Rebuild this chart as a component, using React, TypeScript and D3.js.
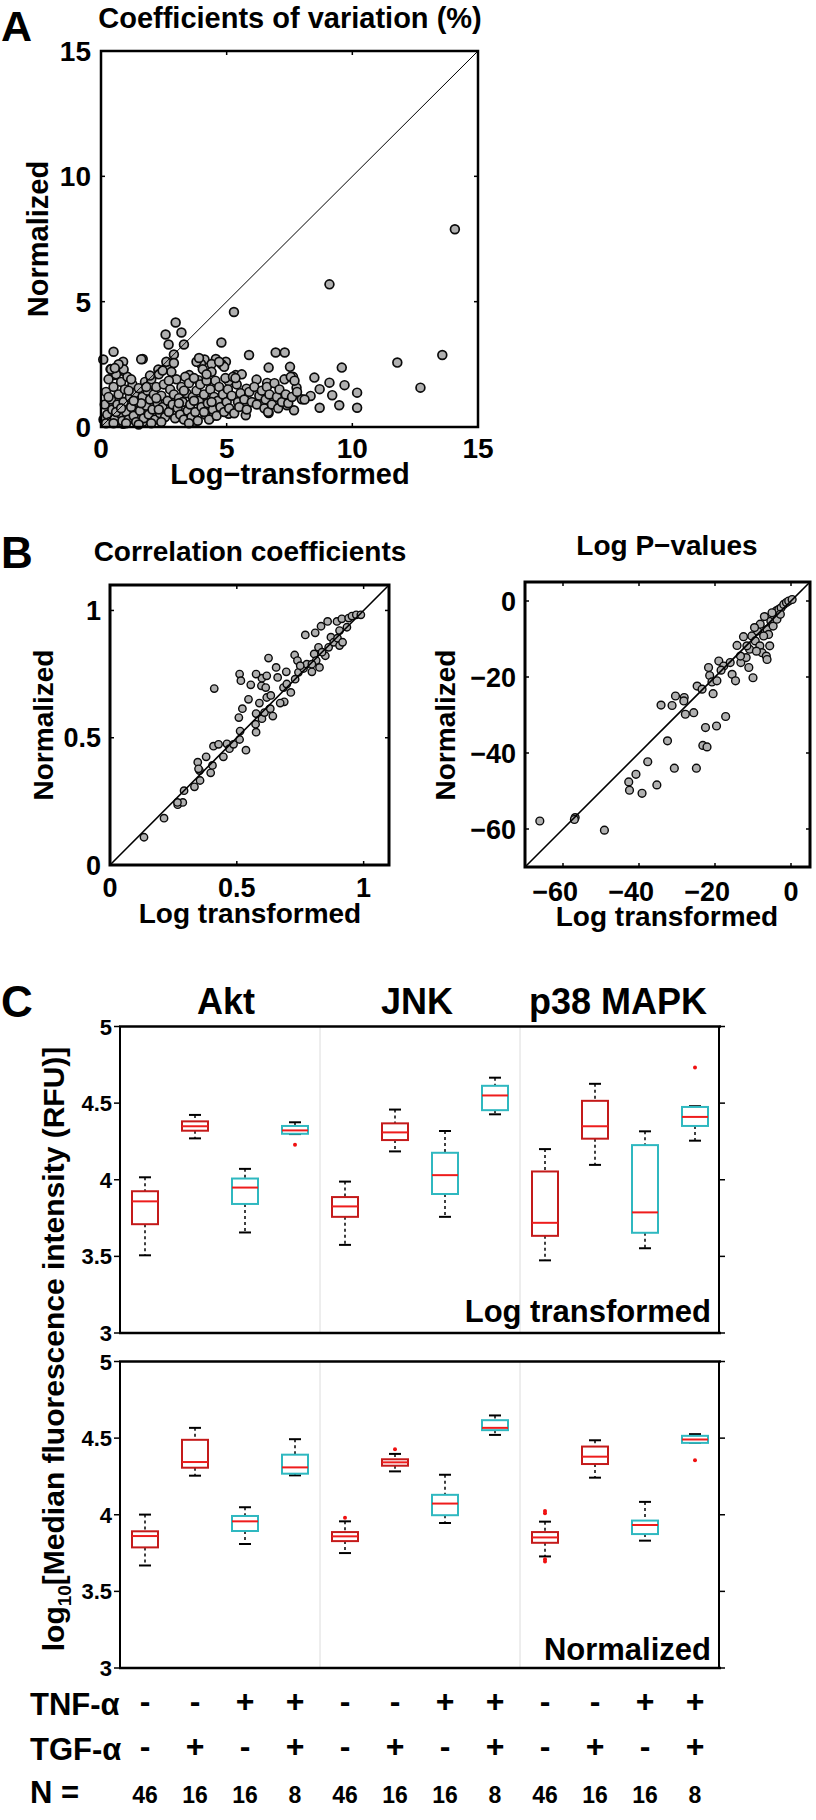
import React from 'react';
import * as d3 from 'd3';

const FONT = "'Liberation Sans', Arial, Helvetica, sans-serif";
const MINUS = '\u2212';

// ---------- Panel A: coefficients of variation (%) [log-transformed, normalized] ----------
const cvPoints: [number, number][] = [
  [14.08, 7.89], [9.09, 5.69], [5.29, 4.59], [13.58, 2.87], [11.79, 2.57], [12.71, 1.57],
  [2.97, 4.17], [3.2, 3.77], [2.57, 3.69], [3.3, 3.29], [2.69, 3.29], [2.9, 2.89],
  [4.79, 3.37], [5.89, 2.87], [6.95, 2.97], [7.31, 2.97], [0.5, 3.0], [0.09, 2.69],
  [0.88, 2.6], [1.66, 2.71], [9.58, 2.37], [9.69, 1.67], [8.49, 1.97], [10.19, 1.37],
  [10.19, 0.77], [9.48, 0.87], [8.7, 0.77], [9.09, 1.77], [9.2, 1.27], [8.7, 1.51],
  [8.34, 1.24], [7.99, 1.11], [7.68, 0.67], [7.78, 1.57], [7.64, 2.0], [7.52, 2.4],
  [6.67, 2.37], [6.19, 1.89], [6.61, 1.76], [5.76, 0.47], [6.67, 0.56], [7.4, 0.87],
  [5.79, 1.53], [5.36, 2.07], [4.97, 2.6], [4.57, 2.71], [4.12, 2.69], [3.98, 2.51],
  [4.4, 2.51], [3.51, 2.07], [2.28, 2.29], [2.7, 2.53], [0.38, 2.31], [0.88, 2.24],
  [0.53, 2.07], [4.51, 1.71], [5.08, 1.83], [3.87, 1.87], [4.86, 1.27], [4.22, 1.07],
  [5.08, 0.53], [3.73, 0.2], [4.37, 0.4], [2.45, 0.4], [1.66, 0.2], [0.88, 0.13], [0.24, 0.2],
  [0.1, 0.3], [0.15, 0.9], [0.2, 1.4], [0.25, 0.5], [0.3, 1.9], [0.35, 0.2], [0.4, 1.1],
  [0.45, 0.7], [0.5, 1.6], [0.55, 0.35], [0.6, 2.1], [0.65, 0.9], [0.7, 1.3], [0.75, 0.55],
  [0.8, 1.8], [0.85, 0.25], [0.9, 1.0], [0.95, 1.5], [1.0, 0.6], [1.05, 2.0], [1.1, 0.3],
  [1.15, 1.2], [1.2, 0.8], [1.25, 1.7], [1.3, 0.45], [1.35, 1.35], [1.4, 0.2], [1.45, 1.0],
  [1.5, 1.55], [1.55, 0.65], [1.6, 2.7], [1.65, 1.2], [1.7, 0.35], [1.75, 1.8], [1.8, 0.85],
  [1.85, 1.45], [1.9, 0.5], [1.95, 1.1], [2.0, 1.9], [2.05, 0.7], [2.1, 1.3], [2.15, 0.3],
  [2.2, 1.6], [2.25, 0.95], [2.3, 2.1], [2.35, 0.55], [2.4, 1.25], [2.45, 0.8], [2.5, 1.7],
  [2.55, 0.4], [2.6, 2.4], [2.65, 1.05], [2.7, 0.6], [2.75, 1.5], [2.8, 2.2], [2.85, 0.9],
  [2.9, 1.3], [2.95, 0.35], [3.0, 1.9], [3.05, 0.75], [3.1, 1.15], [3.15, 0.5], [3.2, 1.6],
  [3.25, 1.0], [3.3, 0.3], [3.35, 2.0], [3.4, 1.35], [3.45, 0.65], [3.5, 1.75], [3.55, 0.9],
  [3.6, 0.4], [3.65, 1.2], [3.7, 1.95], [3.75, 0.6], [3.8, 1.45], [3.85, 0.25], [3.9, 1.05],
  [3.95, 1.7], [4.0, 0.8], [4.05, 2.3], [4.1, 1.3], [4.15, 0.5], [4.2, 1.85], [4.25, 0.95],
  [4.3, 0.3], [4.35, 1.5], [4.4, 2.2], [4.45, 0.7], [4.5, 1.2], [4.55, 1.85], [4.6, 0.45],
  [4.65, 1.05], [4.7, 1.6], [4.75, 0.8], [4.8, 2.5], [4.85, 1.3], [4.9, 0.6], [4.95, 1.95],
  [5.0, 1.0], [5.05, 1.5], [5.1, 0.75], [5.2, 1.25], [5.25, 2.0], [5.3, 0.55], [5.4, 1.7],
  [5.45, 1.0], [5.5, 0.8], [5.55, 1.35], [5.6, 2.1], [5.7, 1.1], [5.8, 0.7], [5.9, 1.4],
  [6.0, 1.0], [6.1, 1.6], [6.2, 0.9], [6.3, 1.25], [6.4, 1.45], [6.5, 0.75], [6.55, 1.1],
  [6.6, 1.6], [6.65, 0.6], [6.7, 1.3], [6.8, 0.9], [6.9, 1.75], [7.0, 1.2], [7.05, 0.75],
  [7.1, 1.5], [7.2, 1.0], [7.3, 1.9], [7.35, 1.3], [7.45, 0.95], [7.55, 2.0], [7.6, 1.2],
  [7.7, 1.85], [7.8, 1.4], [8.1, 1.1], [0.2, 0.15], [0.5, 0.15], [1.0, 0.15], [1.5, 0.1],
  [2.0, 0.15], [2.4, 0.2], [3.5, 0.15], [0.3, 1.2], [0.6, 0.6], [0.9, 2.3], [1.2, 1.9],
  [0.4, 2.3], [0.7, 2.5], [1.1, 1.45], [1.6, 0.95], [2.2, 1.15], [2.7, 1.85], [3.1, 0.95],
  [3.3, 1.45], [3.7, 1.05], [4.1, 0.6], [4.4, 1.0], [2.6, 2.6], [2.9, 2.55], [1.8, 1.6],
  [1.3, 1.05], [0.8, 0.75], [2.45, 2.25], [3.8, 2.6], [4.2, 2.1], [4.9, 2.4], [5.35, 1.95],
  [4.7, 2.6], [3.9, 2.75], [2.3, 0.7], [1.95, 2.05], [0.55, 2.35],
];
const cvTicks = [0, 5, 10, 15];

// ---------- Panel B left: correlation coefficients ----------
const corrPoints: [number, number][] = [
  [0.134, 0.109], [0.213, 0.184], [0.267, 0.237], [0.287, 0.246], [0.266, 0.246], [0.292, 0.292],
  [0.333, 0.307], [0.355, 0.332], [0.353, 0.371], [0.397, 0.362], [0.404, 0.391], [0.379, 0.425],
  [0.346, 0.404], [0.349, 0.378], [0.408, 0.467], [0.428, 0.474], [0.447, 0.425], [0.461, 0.476],
  [0.471, 0.457], [0.487, 0.474], [0.511, 0.493], [0.513, 0.526], [0.536, 0.451], [0.508, 0.579],
  [0.522, 0.614], [0.546, 0.651], [0.555, 0.708], [0.511, 0.75], [0.516, 0.724], [0.411, 0.693],
  [0.576, 0.522], [0.574, 0.553], [0.576, 0.595], [0.589, 0.636], [0.597, 0.704], [0.599, 0.734],
  [0.614, 0.697], [0.618, 0.658], [0.629, 0.612], [0.599, 0.575], [0.609, 0.599], [0.642, 0.585],
  [0.625, 0.813], [0.655, 0.776], [0.661, 0.737], [0.684, 0.697], [0.687, 0.641], [0.695, 0.759],
  [0.713, 0.678], [0.697, 0.711], [0.728, 0.825], [0.739, 0.803], [0.73, 0.73], [0.743, 0.757],
  [0.763, 0.772], [0.77, 0.904], [0.776, 0.789], [0.796, 0.759], [0.809, 0.912], [0.826, 0.776],
  [0.805, 0.829], [0.822, 0.855], [0.832, 0.938], [0.858, 0.957], [0.849, 0.822], [0.862, 0.855],
  [0.871, 0.895], [0.882, 0.875], [0.897, 0.891], [0.905, 0.862], [0.917, 0.875], [0.895, 0.957],
  [0.914, 0.967], [0.934, 0.934], [0.941, 0.97], [0.954, 0.978], [0.971, 0.983], [0.989, 0.983],
  [0.905, 0.921], [0.836, 0.836], [0.813, 0.803], [0.796, 0.789], [0.75, 0.783], [0.671, 0.636],
  [0.634, 0.666], [0.576, 0.75], [0.618, 0.743], [0.632, 0.614],
];
const corrTicks = [0, 0.5, 1];

// ---------- Panel B right: log P-values ----------
const pvalPoints: [number, number][] = [
  [-66.1, -57.9], [-56.8, -57.0], [-57.0, -57.5], [-49.1, -60.3], [-42.7, -47.6], [-42.5, -49.8],
  [-40.8, -45.6], [-39.2, -50.6], [-37.7, -42.3], [-35.3, -48.4], [-34.2, -27.4], [-32.5, -36.8],
  [-31.3, -27.5], [-30.7, -44.0], [-30.4, -25.0], [-28.1, -25.4], [-27.8, -29.8], [-28.2, -26.3],
  [-25.6, -29.4], [-24.9, -44.0], [-24.7, -22.4], [-23.4, -23.2], [-23.2, -38.0], [-22.1, -38.4],
  [-22.5, -33.3], [-21.4, -19.6], [-21.7, -17.5], [-20.8, -21.3], [-20.5, -24.4], [-19.6, -32.9],
  [-19.5, -21.0], [-19.0, -15.8], [-17.7, -17.1], [-17.2, -30.4], [-15.5, -19.3], [-14.6, -21.0],
  [-14.2, -11.7], [-13.2, -16.2], [-12.5, -9.4], [-11.8, -14.9], [-11.1, -17.5], [-10.0, -20.2],
  [-10.9, -12.7], [-10.3, -9.2], [-9.4, -10.5], [-8.8, -7.9], [-8.2, -11.8], [-7.6, -13.6],
  [-7.0, -4.1], [-6.3, -7.5], [-6.5, -14.5], [-6.3, -15.4], [-5.9, -8.8], [-5.6, -11.8],
  [-5.3, -5.3], [-4.7, -6.6], [-4.4, -3.9], [-3.9, -2.6], [-3.2, -2.2], [-2.6, -1.8],
  [-1.9, -0.9], [-1.2, -0.4], [-0.6, 0.0], [0.3, 0.4], [-8.1, -6.1], [-9.6, -7.0],
  [-7.2, -9.2], [-5.0, -3.1], [-3.7, -4.8], [-2.8, -3.5], [-9.1, -13.2], [-11.6, -11.8],
  [-13.3, -14.5], [-16.0, -16.2], [-18.4, -18.2],
];
const pvalTicks = [-60, -40, -20, 0];

// ---------- Panel C: box plots ----------
const kinases = ['Akt', 'JNK', 'p38 MAPK'];
const tnfAlpha = ['-', '-', '+', '+', '-', '-', '+', '+', '-', '-', '+', '+'];
const tgfAlpha = ['-', '+', '-', '+', '-', '+', '-', '+', '-', '+', '-', '+'];
const nValues = [46, 16, 16, 8, 46, 16, 16, 8, 46, 16, 16, 8];
const cTicks = [3, 3.5, 4, 4.5, 5];
// [lower whisker, q1, median, q3, upper whisker]
const logBoxes: number[][] = [
  [3.507, 3.71, 3.859, 3.925, 4.016], [4.27, 4.32, 4.349, 4.381, 4.423],
  [3.656, 3.842, 3.949, 4.008, 4.071], [4.298, 4.3, 4.322, 4.351, 4.375],
  [3.575, 3.758, 3.826, 3.887, 3.988], [4.185, 4.259, 4.309, 4.368, 4.458],
  [3.758, 3.907, 4.03, 4.176, 4.318], [4.427, 4.454, 4.55, 4.613, 4.666],
  [3.474, 3.634, 3.719, 4.054, 4.2], [4.097, 4.268, 4.349, 4.515, 4.626],
  [3.553, 3.654, 3.787, 4.226, 4.316], [4.255, 4.351, 4.41, 4.475, 4.48],
];
const logOutliers: [number, number][] = [[3, 4.228], [11, 4.733]];
const normBoxes: number[][] = [
  [3.669, 3.787, 3.861, 3.892, 4.001], [4.255, 4.307, 4.344, 4.489, 4.567],
  [3.809, 3.894, 3.957, 3.992, 4.049], [4.257, 4.268, 4.309, 4.392, 4.493],
  [3.75, 3.828, 3.859, 3.887, 3.957], [4.283, 4.32, 4.342, 4.362, 4.397],
  [3.946, 3.997, 4.073, 4.13, 4.261], [4.521, 4.552, 4.567, 4.617, 4.648],
  [3.728, 3.817, 3.852, 3.887, 3.955], [4.242, 4.331, 4.379, 4.445, 4.486],
  [3.831, 3.874, 3.933, 3.962, 4.084], [4.469, 4.469, 4.491, 4.515, 4.526],
];
const normOutliers: [number, number][] = [
  [4, 3.981], [5, 4.427], [8, 4.025], [8, 4.01], [8, 3.71], [8, 3.695], [11, 4.355],
];

const GRAY = '#b0b0b0';
const RED_EDGE = '#c41a1a';
const RED_MED = '#ee1c1c';
const CYAN = '#2fb8c0';

type ScatterProps = {
  x: d3.ScaleLinear<number, number>;
  y: d3.ScaleLinear<number, number>;
  ticks: number[];
  fmt: (v: number) => string;
  points: [number, number][];
  r: number;
  sw: number;
  boxW: number;
  diagW: number;
  tickFs: number;
  xTickY: number;
  yTickX: number;
};

function Scatter(p: ScatterProps) {
  const [x0, x1] = p.x.range();
  const [yb, yt] = p.y.range();
  const [d0, d1] = p.x.domain();
  const tl = 4;
  return (
    <g>
      {p.points.map((d, i) => (
        <circle key={i} cx={p.x(d[0])} cy={p.y(d[1])} r={p.r} fill={GRAY} stroke="#0a0a0a" strokeWidth={p.sw} />
      ))}
      <line x1={p.x(d0)} y1={p.y(d0)} x2={p.x(d1)} y2={p.y(d1)} stroke="#000" strokeWidth={p.diagW} />
      {p.ticks.map((t) => (
        <g key={t}>
          <line x1={p.x(t)} x2={p.x(t)} y1={yb} y2={yb - tl} stroke="#000" strokeWidth={1.5} />
          <line x1={p.x(t)} x2={p.x(t)} y1={yt} y2={yt + tl} stroke="#000" strokeWidth={1.5} />
          <line y1={p.y(t)} y2={p.y(t)} x1={x0} x2={x0 + tl} stroke="#000" strokeWidth={1.5} />
          <line y1={p.y(t)} y2={p.y(t)} x1={x1} x2={x1 - tl} stroke="#000" strokeWidth={1.5} />
        </g>
      ))}
      <rect x={x0} y={yt} width={x1 - x0} height={yb - yt} fill="none" stroke="#000" strokeWidth={p.boxW} />
      {p.ticks.map((t) => {
        const s = p.fmt(t);
        const neg = s.startsWith(MINUS);
        const digitsW = (s.length - 1) * 0.556 * p.tickFs;
        return (
          <g key={'l' + t}>
            <text x={p.x(t) + (neg ? digitsW / 2 : 0)} y={p.xTickY} textAnchor={neg ? 'end' : 'middle'} fontSize={p.tickFs}>{s}</text>
            <text x={p.yTickX} y={p.y(t) + p.tickFs * 0.36} textAnchor="end" fontSize={p.tickFs}>{s}</text>
          </g>
        );
      })}
    </g>
  );
}

type BoxProps = {
  y: d3.ScaleLinear<number, number>;
  boxes: number[][];
  outliers: [number, number][];
  label: string;
  labelY: number;
};

const xC = d3.scaleBand<number>().domain(d3.range(12)).range([120, 720]);

function BoxPanel(p: BoxProps) {
  const [yb, yt] = p.y.range();
  const bw = 26;
  const cw = 12;
  return (
    <g>
      {[320, 520].map((sx) => (
        <line key={sx} x1={sx} x2={sx} y1={yt} y2={yb} stroke="#dcdcdc" strokeWidth={1} />
      ))}
      {p.boxes.map((b, i) => {
        const cx = (xC(i) as number) + xC.bandwidth() / 2;
        const edge = i % 4 < 2 ? RED_EDGE : CYAN;
        return (
          <g key={i}>
            <line x1={cx} x2={cx} y1={p.y(b[4])} y2={p.y(b[3])} stroke="#000" strokeWidth={1.5} strokeDasharray="3,3" />
            <line x1={cx} x2={cx} y1={p.y(b[1])} y2={p.y(b[0])} stroke="#000" strokeWidth={1.5} strokeDasharray="3,3" />
            <line x1={cx - cw / 2} x2={cx + cw / 2} y1={p.y(b[4])} y2={p.y(b[4])} stroke="#000" strokeWidth={2} />
            <line x1={cx - cw / 2} x2={cx + cw / 2} y1={p.y(b[0])} y2={p.y(b[0])} stroke="#000" strokeWidth={2} />
            <rect x={cx - bw / 2} y={p.y(b[3])} width={bw} height={Math.max(p.y(b[1]) - p.y(b[3]), 0.5)} fill="#fff" stroke={edge} strokeWidth={2} />
            <line x1={cx - bw / 2} x2={cx + bw / 2} y1={p.y(b[2])} y2={p.y(b[2])} stroke={RED_MED} strokeWidth={2} />
          </g>
        );
      })}
      {p.outliers.map((o, k) => {
        const cx = (xC(o[0]) as number) + xC.bandwidth() / 2;
        return <circle key={k} cx={cx} cy={p.y(o[1])} r={2} fill="#f01010" />;
      })}
      <line x1={120} x2={120} y1={yt} y2={yb} stroke="#000" strokeWidth={2} />
      <line x1={719} x2={719} y1={yt} y2={yb} stroke="#000" strokeWidth={2} />
      <line x1={119} x2={721} y1={yt} y2={yt} stroke="#000" strokeWidth={2.5} />
      <line x1={119} x2={721} y1={yb} y2={yb} stroke="#000" strokeWidth={2.5} />
      {cTicks.map((t) => (
        <g key={t}>
          <line x1={114} x2={120} y1={p.y(t)} y2={p.y(t)} stroke="#000" strokeWidth={1.5} />
          <line x1={719} x2={725} y1={p.y(t)} y2={p.y(t)} stroke="#000" strokeWidth={1.5} />
          <text x={112} y={p.y(t) + 8} textAnchor="end" fontSize={22}>{String(t)}</text>
        </g>
      ))}
      <text x={711} y={p.labelY} textAnchor="end" fontSize={31}>{p.label}</text>
    </g>
  );
}

export default function App() {
  const xA = d3.scaleLinear().domain([0, 15]).range([101, 478]);
  const yA = d3.scaleLinear().domain([0, 15]).range([427, 51]);
  const xB = d3.scaleLinear().domain([0, 1.1]).range([110, 389]);
  const yB = d3.scaleLinear().domain([0, 1.1]).range([865, 585]);
  const xP = d3.scaleLinear().domain([-70, 5]).range([525, 810]);
  const yP = d3.scaleLinear().domain([-70, 5]).range([867, 582]);
  const yTop = d3.scaleLinear().domain([3, 5]).range([1333, 1026.5]);
  const yBot = d3.scaleLinear().domain([3, 5]).range([1668, 1361.5]);

  const numFmt = (v: number) => (v < 0 ? MINUS + String(Math.abs(v)) : String(v));

  return (
    <svg
      width={816}
      height={1820}
      viewBox="0 0 816 1820"
      style={{ position: 'absolute', left: 0, top: 0, background: '#fff' }}
      fontFamily={FONT}
      fontWeight="bold"
    >
      <rect x={0} y={0} width={816} height={1820} fill="#fff" />

      {/* Panel A */}
      <text x={1} y={41} fontSize={43}>A</text>
      <text x={290} y={28} textAnchor="middle" fontSize={29}>Coefficients of variation (%)</text>
      <Scatter x={xA} y={yA} ticks={cvTicks} fmt={numFmt} points={cvPoints} r={4.4} sw={1.7}
        boxW={2.5} diagW={1} tickFs={28} xTickY={458} yTickX={91} />
      <text x={290} y={484} textAnchor="middle" fontSize={29}>{`Log${MINUS}transformed`}</text>
      <text transform="translate(48,239) rotate(-90)" textAnchor="middle" fontSize={29}>Normalized</text>

      {/* Panel B */}
      <text x={1} y={568} fontSize={44}>B</text>
      <text x={250} y={561} textAnchor="middle" fontSize={28}>Correlation coefficients</text>
      <Scatter x={xB} y={yB} ticks={corrTicks} fmt={(v) => String(v)} points={corrPoints} r={3.7} sw={1.4}
        boxW={3} diagW={1.6} tickFs={27} xTickY={897} yTickX={101} />
      <text x={250} y={923} textAnchor="middle" fontSize={28}>Log transformed</text>
      <text transform="translate(53,725) rotate(-90)" textAnchor="middle" fontSize={28}>Normalized</text>

      <text x={667} y={555} textAnchor="middle" fontSize={28}>{`Log P${MINUS}values`}</text>
      <Scatter x={xP} y={yP} ticks={pvalTicks} fmt={numFmt} points={pvalPoints} r={3.9} sw={1.4}
        boxW={3} diagW={1.6} tickFs={27} xTickY={901} yTickX={516} />
      <text x={667} y={926} textAnchor="middle" fontSize={28}>Log transformed</text>
      <text transform="translate(455,725) rotate(-90)" textAnchor="middle" fontSize={28}>Normalized</text>

      {/* Panel C */}
      <text x={1} y={1017} fontSize={44}>C</text>
      {kinases.map((k, i) => (
        <text key={k} x={[226, 417, 618][i]} y={1014} textAnchor="middle" fontSize={36}>{k}</text>
      ))}
      <BoxPanel y={yTop} boxes={logBoxes} outliers={logOutliers} label="Log transformed" labelY={1322} />
      <BoxPanel y={yBot} boxes={normBoxes} outliers={normOutliers} label="Normalized" labelY={1660} />
      <text transform="translate(64,1349) rotate(-90)" textAnchor="middle" fontSize={30}>
        log<tspan fontSize={19} dy={7}>10</tspan>
        <tspan dy={-7}>[Median fluorescence intensity (RFU)]</tspan>
      </text>

      <text x={30} y={1715} fontSize={31}>TNF-α</text>
      <text x={30} y={1760} fontSize={31}>TGF-α</text>
      <text x={30} y={1803} fontSize={31}>N =</text>
      {d3.range(12).map((i) => {
        const cx = (xC(i) as number) + xC.bandwidth() / 2;
        return (
          <g key={i}>
            <text x={cx} y={1712} textAnchor="middle" fontSize={32}>{tnfAlpha[i]}</text>
            <text x={cx} y={1757} textAnchor="middle" fontSize={32}>{tgfAlpha[i]}</text>
            <text x={cx} y={1803} textAnchor="middle" fontSize={23}>{String(nValues[i])}</text>
          </g>
        );
      })}
    </svg>
  );
}
